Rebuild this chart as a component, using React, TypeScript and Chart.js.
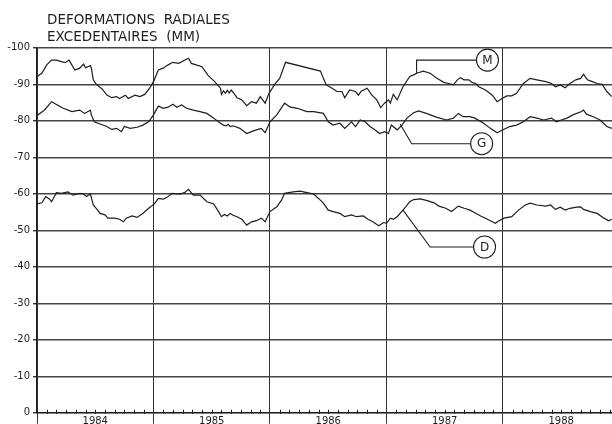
import { useEffect, useRef } from 'react';
import { Chart, registerables } from 'chart.js';

Chart.register(...registerables);

const TITLE_LINES = ['DEFORMATIONS  RADIALES', 'EXCEDENTAIRES  (MM)'];
const YEAR_LABELS = ['1984', '1985', '1986', '1987', '1988'];
const Y_MIN = -100;
const Y_MAX = 0;
const Y_STEP = 10;
const X_MAX_MONTH = 59.23;

// [month since Jan 1984, value in mm]
const SERIES_M: [number, number][] = [
  [0, -92.1], [0.5, -93], [1, -95.3], [1.5, -96.6], [2, -96.6], [2.5, -96.2], [2.9, -95.9], [3.3, -96.6],
  [3.9, -93.9], [4.4, -94.4], [4.8, -95.5], [5, -94.5], [5.5, -95.1], [5.6, -94.4], [5.8, -91.2], [6.1, -90],
  [6.7, -88.7], [7.2, -87], [7.7, -86.3], [8.2, -86.6], [8.5, -86.1], [9.1, -87], [9.4, -86.1], [10.1, -87],
  [10.6, -86.6], [11.1, -87.2], [11.6, -88.9], [12, -90.7], [12.5, -93.9], [13, -94.4], [13.5, -95.3], [14, -96],
  [14.6, -95.7], [15.1, -96.4], [15.6, -97.1], [15.9, -95.7], [17, -94.8], [17.6, -92.5], [18.3, -90.7], [18.9, -88.9],
  [19, -87.2], [19.2, -88.2], [19.4, -87.5], [19.6, -88.3], [19.8, -87.6], [20, -88.4], [20.2, -87.8], [20.6, -86.3],
  [21.1, -85.7], [21.6, -84.1], [22.1, -85.2], [22.6, -84.8], [23, -86.6], [23.5, -84.8], [23.9, -87.5], [24.5, -90],
  [25, -91.6], [25.6, -96], [29.2, -93.6], [29.5, -91.6], [29.8, -89.8], [30.4, -88.9], [30.9, -88], [31.4, -88],
  [31.7, -86.3], [32.2, -88.4], [32.8, -88], [33.1, -87], [33.4, -88.1], [34, -88.9], [34.5, -87], [35, -85.7],
  [35.4, -83.6], [35.8, -84.8], [36.2, -85.7], [36.4, -84.8], [36.7, -87.2], [37.1, -85.7], [37.7, -89.3], [38.4, -92.1],
  [38.9, -92.7], [39.1, -93], [39.8, -93.6], [40.5, -93], [41.2, -91.6], [41.9, -90.5], [42.4, -90.2], [42.9, -89.8],
  [43.3, -91.2], [43.6, -91.8], [44, -91.2], [44.5, -91.2], [44.8, -90.5], [45.2, -90.2], [45.5, -89.3], [46.2, -88.4],
  [46.9, -87], [47.4, -85.2], [47.9, -86.1], [48.4, -86.8], [48.9, -86.8], [49.4, -87.5], [50.1, -90.2], [50.8, -91.6],
  [51.5, -91.2], [52.4, -90.7], [53, -90.2], [53.4, -89.3], [53.9, -89.8], [54.4, -89], [54.9, -90.2], [55.5, -91.2],
  [56, -91.6], [56.3, -92.7], [56.7, -91.2], [57.2, -90.7], [57.7, -90.2], [58.2, -90], [58.7, -88], [59.2, -86.6],
];

const SERIES_G: [number, number][] = [
  [0, -81.5], [0.2, -81.8], [0.8, -83], [1.5, -85.2], [2.7, -83.4], [3.6, -82.5], [4.4, -82.9], [4.9, -82],
  [5.5, -82.9], [5.6, -81.6], [5.9, -79.7], [6.5, -79.1], [7.2, -78.4], [7.7, -77.6], [8.2, -77.9], [8.7, -77],
  [9, -78.4], [9.6, -77.9], [10.3, -78.2], [10.9, -78.8], [11.5, -79.7], [12, -81.6], [12.5, -84], [13, -83.4],
  [13.5, -83.7], [14, -84.5], [14.4, -83.7], [14.9, -84.3], [15.4, -83.4], [16.1, -82.9], [16.8, -82.5], [17.5, -82],
  [18.2, -80.7], [18.9, -79.3], [19.2, -78.8], [19.5, -78.6], [19.7, -79], [19.9, -78.4], [20.2, -78.6], [20.9, -77.9],
  [21.6, -76.5], [22.1, -77], [22.6, -77.5], [23.1, -77.9], [23.5, -76.7], [24, -79.7], [24.7, -81.6], [25.5, -84.8],
  [26.1, -83.7], [26.8, -83.4], [27.8, -82.5], [28.5, -82.5], [29.5, -82], [30, -79.7], [30.5, -78.8], [31.2, -79.3],
  [31.7, -77.9], [32.4, -79.7], [32.8, -78.4], [33.3, -80.2], [33.8, -79.7], [34.3, -78.4], [34.8, -77.5], [35.3, -76.5],
  [35.8, -77], [36.2, -76.5], [36.5, -78.8], [37.1, -77.5], [37.6, -78.8], [38.1, -80.7], [38.8, -82.2], [39.3, -82.7],
  [40.1, -82], [41.2, -80.9], [42.2, -80.2], [42.9, -80.7], [43.4, -82], [43.9, -81.1], [44.6, -81.1], [45.1, -80.7],
  [46, -79.3], [46.7, -77.9], [47.4, -76.7], [48, -77.5], [48.7, -78.4], [49.4, -78.8], [50.1, -79.7], [50.8, -81.1],
  [51.5, -80.7], [52.2, -80.2], [53, -80.7], [53.5, -79.7], [54, -80.2], [54.6, -80.7], [55.2, -81.6], [56.1, -82.5],
  [56.3, -82.9], [56.6, -81.8], [57.3, -81.1], [58, -80.2], [58.7, -78.4], [59.2, -77.9],
];

const SERIES_D: [number, number][] = [
  [0, -57.2], [0.5, -57.5], [0.9, -59.2], [1.3, -58.5], [1.5, -57.8], [2, -60.3], [2.5, -60.1], [3.2, -60.5],
  [3.7, -59.6], [4.4, -60.1], [4.8, -59.9], [5.1, -59.2], [5.5, -59.9], [5.8, -56.9], [6.1, -56], [6.5, -54.6],
  [7, -54.2], [7.3, -53.3], [8, -53.3], [8.5, -53], [8.9, -52.3], [9.2, -53.3], [9.8, -53.9], [10.3, -53.5],
  [10.9, -54.6], [11.5, -56], [12.1, -57.2], [12.5, -58.7], [13, -58.5], [13.4, -59], [13.9, -60.1], [14.7, -59.9],
  [15.2, -60.3], [15.6, -61.2], [16.1, -59.6], [16.8, -59.6], [17.5, -57.8], [18.2, -57.2], [18.7, -55.1], [19, -53.7],
  [19.3, -54.3], [19.6, -53.9], [19.9, -54.6], [20.2, -54.1], [20.6, -53.7], [21.1, -53], [21.6, -51.4], [22.1, -52.3],
  [22.6, -52.6], [23.1, -53.3], [23.5, -52.3], [24, -55.1], [24.7, -56.4], [25.2, -58.3], [25.5, -60.1], [26.4, -60.5],
  [27.1, -60.7], [27.8, -60.3], [28.5, -59.9], [29, -58.7], [29.5, -57.4], [30, -55.5], [30.5, -55.1], [31.2, -54.6],
  [31.7, -53.7], [32.4, -54.2], [32.9, -53.7], [33.6, -53.9], [34.1, -53], [34.6, -52.3], [35.2, -51.2], [35.7, -52.1],
  [36, -51.9], [36.4, -53.3], [36.7, -53], [37.1, -53.7], [37.7, -55.5], [38.4, -57.8], [38.8, -58.4], [39.5, -58.6],
  [40.2, -58.1], [40.9, -57.5], [41.4, -56.6], [42.1, -56], [42.7, -55.1], [43.4, -56.6], [44, -56], [44.6, -55.5],
  [45.1, -54.8], [45.7, -53.9], [46.4, -53], [46.9, -52.3], [47.2, -51.9], [47.6, -52.6], [48.1, -53.3], [48.9, -53.7],
  [49.6, -55.5], [50.3, -56.9], [50.8, -57.4], [51.5, -56.9], [52.4, -56.6], [52.9, -56.9], [53.4, -55.7], [53.9, -56.3],
  [54.4, -55.5], [54.9, -56], [55.6, -56.3], [56, -56.4], [56.3, -55.7], [57, -55.1], [57.7, -54.6], [58.4, -53.3],
  [58.9, -52.6], [59.2, -53],
];

const CALLOUT_LABELS = ['M', 'G', 'D'];
const CALLOUT_ANCHORS: [number, number][] = [[39.1, -93], [37.4, -79.1], [37.7, -55.5]];
const CALLOUT_ELBOWS: [number, number][] = [[39.1, -96.6], [38.6, -73.7], [40.5, -45.4]];
const CALLOUT_CENTERS: [number, number][] = [[46.4, -96.6], [45.8, -73.7], [46.1, -45.4]];

const INK = '#1e1e1e';
const FONT = '"DejaVu Sans", sans-serif';

const decorPlugin = {
  id: 'decor',
  afterDatasetsDraw(chart: any) {
    const { ctx, chartArea, scales } = chart;
    const xs = scales.x;
    const ys = scales.y;
    ctx.save();
    // monthly minor ticks along the zero axis
    ctx.strokeStyle = INK;
    ctx.lineWidth = 1;
    const y0 = ys.getPixelForValue(0);
    for (let m = 1; m < X_MAX_MONTH; m++) {
      if (m % 12 === 0) continue;
      const x = Math.round(xs.getPixelForValue(m)) + 0.5;
      ctx.beginPath();
      ctx.moveTo(x, y0 - 3);
      ctx.lineTo(x, y0 + 1);
      ctx.stroke();
    }
    // callouts
    ctx.lineWidth = 1.1;
    for (let i = 0; i < CALLOUT_LABELS.length; i++) {
      const ax = xs.getPixelForValue(CALLOUT_ANCHORS[i][0]);
      const ay = ys.getPixelForValue(CALLOUT_ANCHORS[i][1]);
      const ex = xs.getPixelForValue(CALLOUT_ELBOWS[i][0]);
      const ey = ys.getPixelForValue(CALLOUT_ELBOWS[i][1]);
      const cx = xs.getPixelForValue(CALLOUT_CENTERS[i][0]);
      const cy = ys.getPixelForValue(CALLOUT_CENTERS[i][1]);
      ctx.strokeStyle = INK;
      ctx.beginPath();
      ctx.moveTo(ax, ay);
      ctx.lineTo(ex, ey);
      ctx.lineTo(cx, cy);
      ctx.stroke();
      ctx.beginPath();
      ctx.arc(cx, cy, 11, 0, Math.PI * 2);
      ctx.fillStyle = '#ffffff';
      ctx.fill();
      ctx.stroke();
      ctx.fillStyle = INK;
      ctx.font = '12px ' + FONT;
      ctx.textAlign = 'center';
      ctx.textBaseline = 'middle';
      ctx.fillText(CALLOUT_LABELS[i], cx, cy + 0.5);
    }
    // title
    ctx.fillStyle = INK;
    ctx.font = '13.5px ' + FONT;
    ctx.textAlign = 'left';
    ctx.textBaseline = 'alphabetic';
    ctx.fillText(TITLE_LINES[0], chartArea.left + 10, 24);
    ctx.fillText(TITLE_LINES[1], chartArea.left + 10, 41);
    ctx.restore();
  },
};

const toPoints = (s: [number, number][]) => s.map(([x, y]) => ({ x, y }));

export default function App() {
  const ref = useRef<HTMLCanvasElement | null>(null);
  useEffect(() => {
    if (!ref.current) return;
    const lineStyle = {
      borderColor: INK,
      borderWidth: 1.2,
      pointRadius: 0,
      tension: 0,
      fill: false,
    };
    const chart = new Chart(ref.current, {
      type: 'line',
      data: {
        datasets: [
          { label: 'M', data: toPoints(SERIES_M), ...lineStyle },
          { label: 'G', data: toPoints(SERIES_G), ...lineStyle },
          { label: 'D', data: toPoints(SERIES_D), ...lineStyle },
        ],
      },
      options: {
        animation: false,
        responsive: true,
        maintainAspectRatio: false,
        parsing: false as any,
        layout: { padding: { top: 47.7, left: 0, right: 0, bottom: 0 } },
        plugins: { legend: { display: false }, tooltip: { enabled: false }, title: { display: false } },
        scales: {
          x: {
            type: 'linear',
            min: 0,
            max: X_MAX_MONTH,
            afterBuildTicks: (scale: any) => {
              const t = [];
              for (let m = 0; m < X_MAX_MONTH; m++) t.push({ value: m });
              scale.ticks = t;
            },
            afterFit: (scale: any) => {
              scale.height = 11.3;
              scale.paddingLeft = 0;
              scale.paddingRight = 0;
            },
            grid: {
              color: (c: any) => (c.tick && c.tick.value % 12 === 0 ? '#333' : 'rgba(0,0,0,0)'),
              tickColor: (c: any) => (c.tick && c.tick.value % 12 === 0 ? '#333' : 'rgba(0,0,0,0)'),
              lineWidth: 1,
              tickLength: 11,
            },
            border: { display: true, color: INK, width: 1.2 },
            ticks: {
              autoSkip: false,
              maxRotation: 0,
              minRotation: 0,
              padding: -8,
              color: INK,
              font: { family: FONT, size: 10 },
              callback: (v: any) => {
                const n = Number(v);
                return n % 12 === 6 ? YEAR_LABELS[(n - 6) / 12] : '';
              },
            },
          },
          y: {
            type: 'linear',
            min: Y_MIN,
            max: Y_MAX,
            reverse: true,
            afterFit: (scale: any) => {
              scale.width = 37;
              scale.paddingTop = 0;
              scale.paddingBottom = 0;
            },
            grid: { color: '#444', lineWidth: 1.4, tickLength: 4, tickColor: '#333' },
            border: { display: true, color: INK, width: 1.2 },
            ticks: {
              stepSize: Y_STEP,
              padding: 3,
              color: INK,
              font: { family: FONT, size: 10 },
              callback: (v: any) => String(v),
            },
          },
        },
      },
      plugins: [decorPlugin],
    });
    return () => chart.destroy();
  }, []);
  return (
    <div style={{ position: 'absolute', left: 0, top: 0, width: 612, height: 424, background: '#fff' }}>
      <canvas ref={ref} />
    </div>
  );
}
